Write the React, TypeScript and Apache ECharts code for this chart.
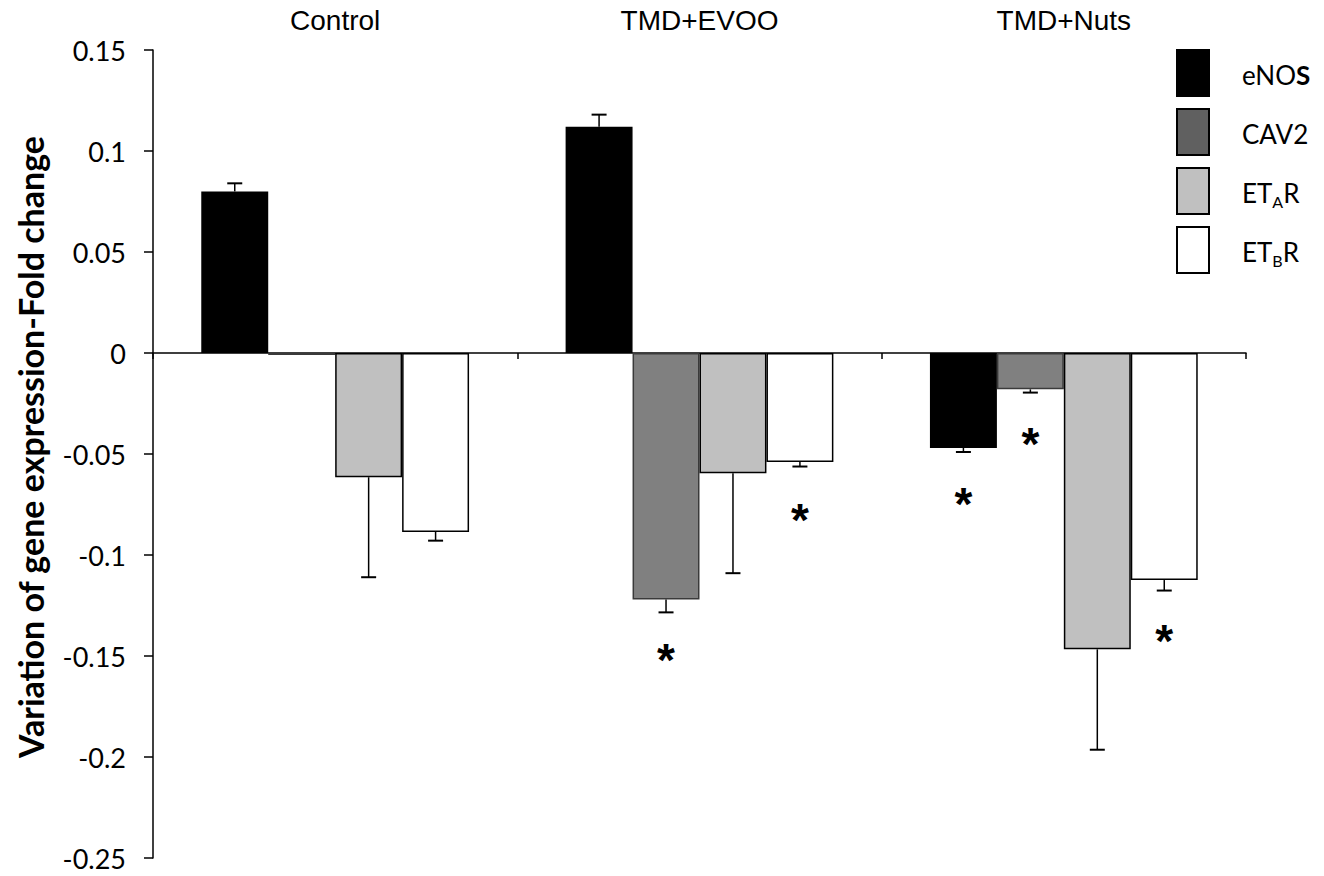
import React, { useEffect, useRef } from "react";
import * as echarts from "echarts";

const categories = ["Control", "TMD+EVOO", "TMD+Nuts"];
const geneNames = ["eNOS", "CAV2", "ETAR", "ETBR"];

const eNOS = [0.08, 0.112, -0.047];
const eNOSErr = [0.004, 0.006, 0.002];
const cav2 = [-0.001, -0.122, -0.018];
const cav2Err = [0, 0.0064, 0.0016];
const etaR = [-0.0615, -0.0595, -0.1467];
const etaRErr = [0.0495, 0.0495, 0.0497];
const etbR = [-0.0886, -0.0539, -0.1124];
const etbRErr = [0.0043, 0.0023, 0.0052];

// significance asterisks (value position), null = none
const eNOSStar = [null, null, -0.072];
const cav2Star = [null, -0.149, -0.042];
const etaRStar = [null, null, null];
const etbRStar = [null, -0.0795, -0.1394];

const fills = ["#000000", "#808080", "#c0c0c0", "#ffffff"];
const borders = ["#000000", "#3a3a3a", "#000000", "#000000"];
const legendFills = ["#000000", "#606060", "#c0c0c0", "#ffffff"];

const GAP = 0.265;

export default function App() {
  const ref = useRef<HTMLDivElement>(null);
  useEffect(() => {
    if (!ref.current) return;
    const chart = echarts.init(ref.current, undefined, { renderer: "svg" });
    const values = [eNOS, cav2, etaR, etbR];
    const errs = [eNOSErr, cav2Err, etaRErr, etbRErr];
    const stars = [eNOSStar, cav2Star, etaRStar, etbRStar];

    const barSeries = geneNames.map((name, j) => ({
      name,
      type: "bar",
      data: values[j],
      barGap: "0%",
      barCategoryGap: GAP * 100 + "%",
      itemStyle: { color: fills[j], borderColor: borders[j], borderWidth: 1.5 },
      z: 2,
    }));

    const errSeries = geneNames.map((name, j) => ({
      name: name + "_err",
      type: "custom",
      z: 3,
      clip: false,
      data: categories.map((c, i) => [i, values[j][i], errs[j][i]]),
      renderItem: (params: any, api: any) => {
        const i = api.value(0);
        const v = api.value(1);
        const e = api.value(2);
        if (!e) return null;
        const band = api.size([1, 0])[0];
        const bw = (band * (1 - GAP)) / 4;
        const base = api.coord([i, v]);
        const x = base[0] + (j - 1.5) * bw;
        const tip = api.coord([i, v + Math.sign(v) * e]);
        const cap = 7.5;
        return {
          type: "group",
          children: [
            { type: "line", shape: { x1: x, y1: base[1], x2: x, y2: tip[1] }, style: { stroke: "#000", lineWidth: 1.5 } },
            { type: "line", shape: { x1: x - cap, y1: tip[1], x2: x + cap, y2: tip[1] }, style: { stroke: "#000", lineWidth: 2 } },
          ],
        };
      },
    }));

    const starSeries = geneNames.map((name, j) => ({
      name: name + "_star",
      type: "custom",
      z: 4,
      clip: false,
      data: categories
        .map((c, i) => [i, stars[j][i]])
        .filter((d) => d[1] !== null),
      renderItem: (params: any, api: any) => {
        const i = api.value(0);
        const v = api.value(1);
        const band = api.size([1, 0])[0];
        const bw = (band * (1 - GAP)) / 4;
        const p = api.coord([i, v]);
        const x = p[0] + (j - 1.5) * bw;
        return {
          type: "text",
          x,
          y: p[1] + 6,
          style: {
            text: "*",
            fontSize: 46,
            fontWeight: "bold",
            fontFamily: "Liberation Sans, Arial, sans-serif",
            fill: "#000",
            align: "center",
            verticalAlign: "middle",
          },
        };
      },
    }));

    const legendFmt: Record<string, string> = {
      eNOS: "{n|eNO}{b|S}",
      CAV2: "{n|CAV2}",
      ETAR: "{n|ET}{s|A}{n|R}",
      ETBR: "{n|ET}{s|B}{n|R}",
    };

    chart.setOption({
      animation: false,
      backgroundColor: "#ffffff",
      grid: { left: 153, right: 78, top: 50, bottom: 18, containLabel: false },
      legend: {
        orient: "vertical",
        left: 1176,
        top: 49,
        padding: 0,
        itemWidth: 32,
        itemHeight: 46,
        itemGap: 11,
        icon: "rect",
        selectedMode: false,
        data: geneNames.map((n, j) => ({
          name: n,
          itemStyle: { color: legendFills[j], borderColor: "#000", borderWidth: 2 },
        })),
        formatter: (name: string) => legendFmt[name] || name,
        textStyle: {
          padding: [4, 0, 0, 28],
          fontFamily: "Lato, sans-serif",
          fontSize: 26,
          color: "#000",
          rich: {
            n: { fontFamily: "Lato, sans-serif", fontSize: 26, color: "#000", lineHeight: 32 },
            b: { fontFamily: "Lato, sans-serif", fontSize: 26, fontWeight: "bold", color: "#000", lineHeight: 32 },
            s: { fontFamily: "Lato, sans-serif", fontSize: 16, color: "#000", verticalAlign: "bottom", lineHeight: 16 },
          },
        },
      },
      xAxis: [
        {
          type: "category",
          data: categories,
          position: "bottom",
          axisLine: { onZero: true, lineStyle: { color: "#000", width: 1.5 } },
          axisTick: { show: true, length: 6, inside: false, lineStyle: { color: "#000", width: 1.5 } },
          axisLabel: { show: false },
          splitLine: { show: false },
        },
        {
          type: "category",
          data: categories,
          position: "top",
          axisLine: { show: false, onZero: false },
          axisTick: { show: false },
          axisLabel: {
            show: true,
            margin: 16,
            fontFamily: "Liberation Sans, Arial, sans-serif",
            fontSize: 28,
            color: "#000",
          },
          splitLine: { show: false },
        },
      ],
      yAxis: {
        type: "value",
        min: -0.25,
        max: 0.15,
        interval: 0.05,
        name: "Variation of gene expression-Fold change",
        nameLocation: "middle",
        nameRotate: 90,
        nameGap: 106,
        nameTextStyle: {
          fontFamily: "Lato, sans-serif",
          fontWeight: "bold",
          fontSize: 34,
          color: "#000",
          padding: [0, 0, 0, 14],
        },
        axisLine: { show: true, lineStyle: { color: "#000", width: 1.5 } },
        axisTick: { show: true, length: 9, lineStyle: { color: "#000", width: 1.5 } },
        splitLine: { show: false },
        axisLabel: {
          margin: 27,
          fontFamily: "Lato, sans-serif",
          fontSize: 27,
          color: "#000",
          formatter: (v: number) => String(Math.round(v * 100) / 100),
        },
      },
      series: [...barSeries, ...errSeries, ...starSeries],
    });
    return () => chart.dispose();
  }, []);
  return (
    <div
      ref={ref}
      style={{ position: "absolute", left: 0, top: 0, width: 1324, height: 876, background: "#fff" }}
    />
  );
}
